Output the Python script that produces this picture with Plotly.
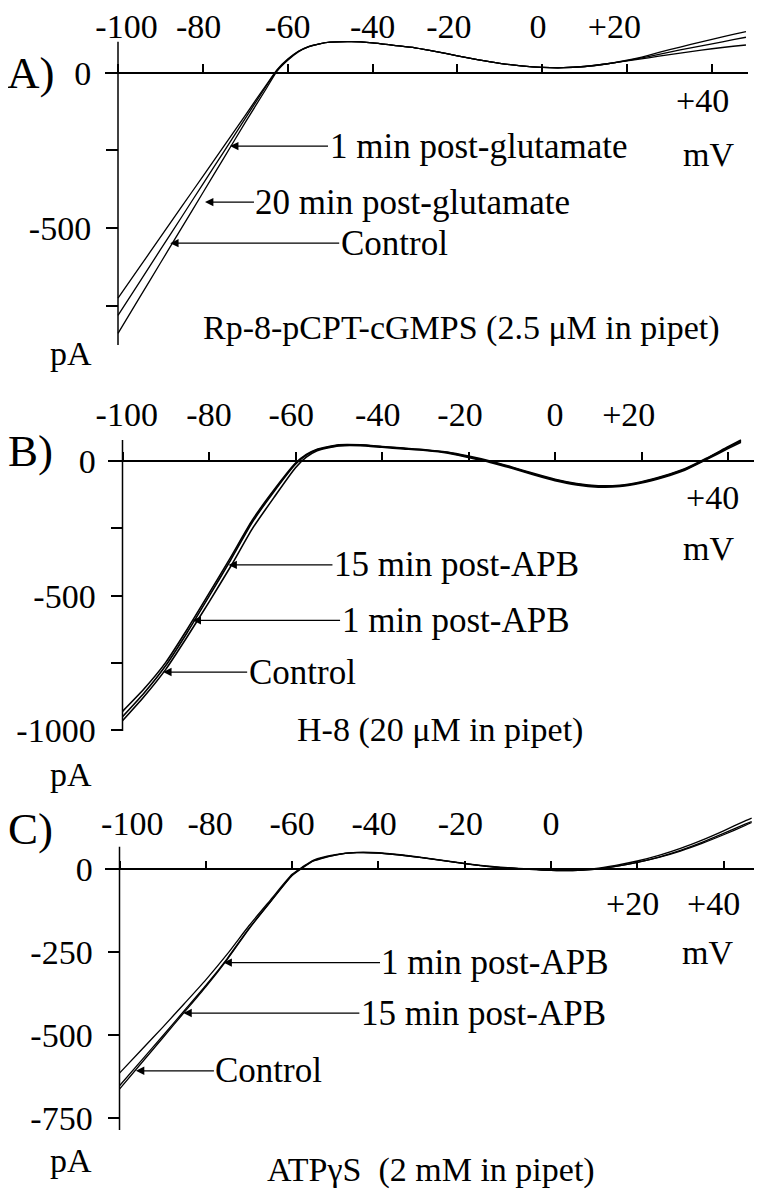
import plotly.graph_objects as go

# the page body adds an 8 px margin, so the figure is drawn 8 px smaller
OFF = 8
FW, FH = 762 - OFF, 1200 - OFF
FONT = "Liberation Serif"
NB = "\u00a0"

# ======================
# Data read off the traces : voltage (mV) -> current (pA)
# ======================
# A) Rp-8-pCPT-cGMPS
mv_a = [-100, -95, -90, -85, -80, -75, -70, -65, -62.5, -60, -57.5, -55, -52.5, -50,
        -45, -40, -35, -30, -25, -20, -15, -10, -5, 0, 5, 10, 15, 20, 25, 30, 35, 40, 45, 48]
a_1min = [-725, -627, -529, -431, -333, -235, -137, -38, 10, 44, 69, 85, 93, 98,
          100, 96, 88, 80, 68, 54, 41, 30, 22, 17, 16, 20, 28, 38, 48, 58, 68, 77, 85, 89]
a_20min = [-780, -675, -569, -464, -358, -253, -147, -42, 8, 42, 68, 84, 93, 98,
           100, 96, 88, 80, 68, 54, 41, 30, 22, 17, 16, 20, 28, 39, 52, 66, 80, 93, 106, 114]
a_control = [-838, -725, -612, -499, -386, -273, -160, -50, 5, 40, 67, 84, 93, 98,
             100, 96, 88, 80, 68, 54, 41, 30, 22, 17, 16, 20, 28, 40, 56, 74, 91, 107, 123, 132]

# B) H-8
mv_b = [-100, -95, -90, -85, -80, -75, -70, -65, -60, -57.5, -55, -50, -45, -40, -35,
        -30, -25, -20, -15, -10, -5, 0, 5, 10, 15, 20, 25, 30, 35, 40, 43]
b_15min = [-965, -875, -774, -652, -524, -392, -252, -136, -25, 14, 38, 56, 57, 51, 45,
           39, 30, 13, -5, -27, -51, -73, -89, -97, -95, -82, -61, -34, 5, 46, 70]
b_1min = [-930, -846, -748, -624, -492, -358, -220, -108, -8, 24, 44, 60, 60, 54, 48,
          42, 33, 18, 0, -22, -46, -68, -84, -92, -90, -77, -56, -29, 10, 53, 78]
b_control = [-950, -862, -760, -636, -503, -368, -228, -114, -12, 22, 42, 58, 59, 53, 47,
             41, 32, 16, -2, -24, -48, -70, -86, -94, -92, -79, -58, -31, 8, 50, 74]

# C) ATPgammaS
mv_c = [-100, -95, -90, -85, -80, -75, -70, -65, -60, -57.5, -55, -50, -45, -40, -35,
        -30, -25, -20, -15, -10, -5, 0, 5, 10, 15, 20, 25, 30, 35, 40, 45, 46.5]
c_1min = [-614, -545, -476, -405, -333, -255, -170, -92, -15, 8, 28, 44, 51, 50, 44,
          36, 27, 18, 10, 5, 1, -2, -3, 2, 12, 25, 42, 63, 88, 116, 146, 154]
c_15min = [-652, -577, -502, -426, -350, -268, -178, -97, -18, 6, 26, 43, 50, 49, 43,
           35, 26, 17, 9, 4, 0, -3, -4, 0, 9, 21, 37, 57, 81, 108, 136, 144]
c_control = [-662, -585, -508, -431, -354, -271, -180, -98, -19, 5, 25, 43, 50, 49, 43,
             35, 26, 17, 9, 4, 0, -3, -4, 0, 9, 21, 36, 55, 78, 104, 132, 141]

tick_mv = [-100, -80, -60, -40, -20, 0, 20, 40]
# tick labels (non-breaking spaces only nudge each label like the printed figure)
top_a = [NB * 2 + "-100", "-80" + NB, "-60", "-40", "-20" + NB * 2, "0" + NB, "+20" + NB * 3, ""]
top_b = [NB + "-100", "-80", "-60" + NB, "-40" + NB, "-20" + NB * 2, "0", "+20" + NB * 3, ""]
top_c = [NB * 3 + "-100", NB + "-80", "-60", "-40" + NB, "-20" + NB, "0", "", ""]


def fx(px):
    return (px - OFF) / FW


def fy(py):
    return 1 - (py - OFF) / FH


# ======================
# Panels : data + geometry (page pixels)
# ======================
panels = [
    dict(series=[a_1min, a_20min, a_control], mv=mv_a, width=1.3,
         yticks=[0, -250, -500, -750], ytext=["0", "", "-500", ""], top=top_a,
         axis_px=118, mv_px=4.243, zero_py=72.7, pa_px=0.311,
         plot_x=(105, 748), plot_y=(26, 350), axis_y=(41.7, 345), label_off=12,
         arrows=[("1 min post-glutamate", -73.6, -236, 248),
                 ("20 min post-glutamate", -79.5, -416, 208),
                 ("Control", -87.7, -548, 224)],
         notes=[("A)", 30, 73, 45), ("+40", 702, 101, 34), ("mV", 708, 155, 34),
                ("pA", 71, 353, 34),
                ("Rp-8-pCPT-cGMPS (2.5 \u03bcM in pipet)", 461, 328, 34)]),
    dict(series=[b_15min, b_1min, b_control], mv=mv_b, width=1.6,
         yticks=[0, -250, -500, -750, -1000], ytext=["0", "", "-500", "", "-1000"], top=top_b,
         axis_px=122.5, mv_px=4.325, zero_py=461, pa_px=0.2692,
         plot_x=(108, 755), plot_y=(428, 736), axis_y=(440, 731), label_off=13,
         arrows=[("15 min post-APB", -75.5, -386, 228),
                 ("1 min post-APB", -83.8, -592, 263),
                 ("Control", -90.6, -784, 139)],
         notes=[("B)", 30, 451, 45), ("+40", 712, 497, 34), ("mV", 708, 548, 34),
                ("pA", 71, 774, 34),
                ("H-8 (20 \u03bcM in pipet)", 440, 730, 34)]),
    dict(series=[c_1min, c_15min, c_control], mv=mv_c, width=1.3,
         yticks=[0, -250, -500, -750], ytext=["0", "-250", "-500", "-750"], top=top_c,
         axis_px=119.5, mv_px=4.315, zero_py=869.3, pa_px=0.332,
         plot_x=(105, 754), plot_y=(805, 1135), axis_y=(846.7, 1130), label_off=12,
         arrows=[("1 min post-APB", -75.9, -281, 272),
                 ("15 min post-APB", -85.2, -433, 300),
                 ("Control", -96.2, -607, 133)],
         notes=[("C)", 30, 829, 45), ("+20", 632, 903, 34), ("+40", 713, 903, 34),
                ("mV", 707, 952, 34), ("pA", 71, 1160, 34),
                ("ATP\u03b3S\u00a0 (2 mM in pipet)", 431, 1170, 34)]),
]

fig = go.Figure()
layout = {}
shapes = []
annotations = []

for i, p in enumerate(panels, start=1):
    sfx = "" if i == 1 else str(i)
    xref, yref = "x" + sfx, "y" + sfx

    for ys in p["series"]:
        fig.add_trace(go.Scatter(
            x=p["mv"], y=ys, mode="lines", xaxis=xref, yaxis=yref,
            line=dict(color="black", width=p["width"], shape="spline", smoothing=0.6),
            hoverinfo="skip", showlegend=False))

    x_range = [-100 + (p["plot_x"][0] - p["axis_px"]) / p["mv_px"],
               -100 + (p["plot_x"][1] - p["axis_px"]) / p["mv_px"]]
    y_range = [(p["zero_py"] - p["plot_y"][1]) / p["pa_px"],
               (p["zero_py"] - p["plot_y"][0]) / p["pa_px"]]

    # horizontal axis drawn through 0 pA, labels above
    layout["xaxis" + sfx] = dict(
        domain=[fx(p["plot_x"][0]), fx(p["plot_x"][1])], range=x_range,
        anchor="free", position=fy(p["zero_py"]), side="top", automargin=False,
        showline=True, linecolor="black", linewidth=1.5,
        ticks="outside", ticklen=8, tickwidth=1.5, tickcolor="black",
        tickvals=tick_mv, ticktext=p["top"], ticklabelstandoff=p["label_off"],
        tickfont=dict(family=FONT, size=34, color="black"),
        showgrid=False, zeroline=False, fixedrange=True)

    # vertical axis at -100 mV
    layout["yaxis" + sfx] = dict(
        domain=[fy(p["plot_y"][1]), fy(p["plot_y"][0])], range=y_range,
        anchor="free", position=fx(p["axis_px"]), showline=False, automargin=False,
        ticks="outside", ticklen=12, tickwidth=1.5, tickcolor="black",
        tickvals=p["yticks"], ticktext=p["ytext"], ticklabelstandoff=8,
        tickfont=dict(family=FONT, size=34, color="black"),
        showgrid=False, zeroline=False, fixedrange=True)

    shapes.append(dict(type="line", xref=xref, yref="paper", x0=-100, x1=-100,
                       y0=fy(p["axis_y"][1]), y1=fy(p["axis_y"][0]),
                       line=dict(color="black", width=1.5)))

    for text, tx, ty, dx in p["arrows"]:
        annotations.append(dict(
            x=tx, y=ty, xref=xref, yref=yref, text=text, showarrow=True,
            ax=dx, ay=0, arrowhead=2, arrowsize=1.4, arrowwidth=1.2,
            arrowcolor="black", standoff=0,
            font=dict(family=FONT, size=35, color="black")))

    for text, px, py, size in p["notes"]:
        annotations.append(dict(
            x=fx(px), y=fy(py), xref="paper", yref="paper", text=text,
            showarrow=False, xanchor="center", yanchor="middle",
            font=dict(family=FONT, size=size, color="black")))

fig.update_layout(
    width=FW, height=FH, autosize=False, template="none",
    margin=dict(l=0, r=0, t=0, b=0, autoexpand=False),
    paper_bgcolor="white", plot_bgcolor="white",
    showlegend=False, shapes=shapes, annotations=annotations,
    **layout)

fig.write_html("out.html")
